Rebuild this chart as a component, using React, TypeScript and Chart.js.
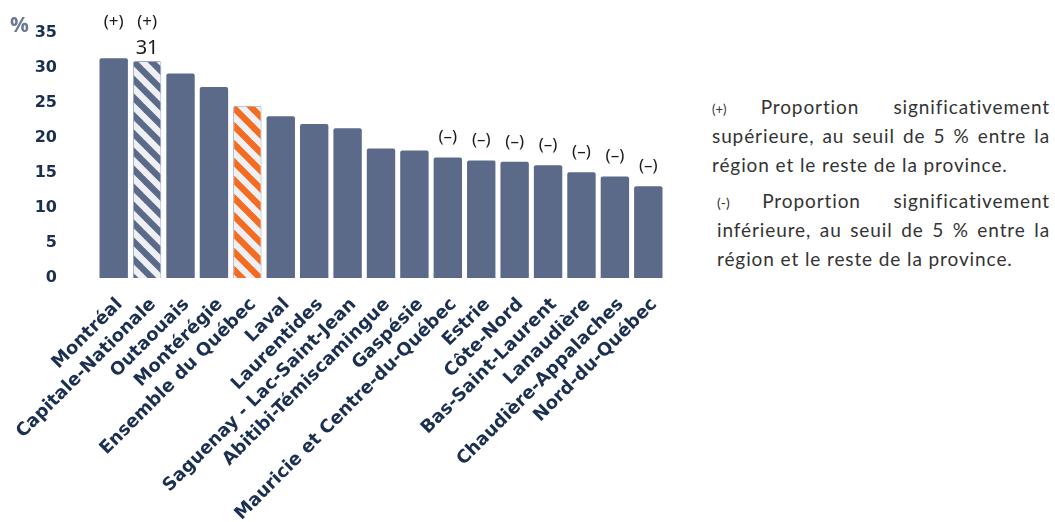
import React, { useEffect, useRef } from "react";
import { Chart, registerables } from "chart.js";

Chart.register(...registerables);

const categories = [
  "Montréal",
  "Capitale-Nationale",
  "Outaouais",
  "Montérégie",
  "Ensemble du Québec",
  "Laval",
  "Laurentides",
  "Saguenay - Lac-Saint-Jean",
  "Abitibi-Témiscamingue",
  "Gaspésie",
  "Mauricie et Centre-du-Québec",
  "Estrie",
  "Côte-Nord",
  "Bas-Saint-Laurent",
  "Lanaudière",
  "Chaudière-Appalaches",
  "Nord-du-Québec",
];

const values = [31.4, 31.0, 29.2, 27.3, 24.6, 23.1, 22.0, 21.4, 18.5, 18.2, 17.2, 16.8, 16.6, 16.1, 15.1, 14.5, 13.1];

const significance = ["+", "+", "", "", "", "", "", "", "", "", "-", "-", "-", "-", "-", "-", "-"];

const valueLabels = ["", "31", "", "", "", "", "", "", "", "", "", "", "", "", "", "", ""];

// "solid" | "navyHatch" | "orangeHatch"
const barKinds = ["solid", "navyHatch", "solid", "solid", "orangeHatch", "solid", "solid", "solid", "solid", "solid", "solid", "solid", "solid", "solid", "solid", "solid", "solid"];

const yTickValues = [0, 5, 10, 15, 20, 25, 30, 35];

const legendPlus = ["Proportion significativement", "supérieure, au seuil de 5 % entre la", "région et le reste de la province."];
const legendMinus = ["Proportion significativement", "inférieure, au seuil de 5 % entre la", "région et le reste de la province."];

const NAVY = "#5c6a89";
const LIGHT = "#eff0f3";
const ORANGE = "#f36c21";
const LABEL = "#1b2f50";

function makePattern(fg: string, bg: string, p: number): CanvasPattern | string {
  const c = document.createElement("canvas");
  c.width = p;
  c.height = p;
  const g = c.getContext("2d");
  if (!g) return fg;
  g.fillStyle = bg;
  g.fillRect(0, 0, p, p);
  g.strokeStyle = fg;
  g.lineWidth = p / (2 * Math.SQRT2);
  for (const k of [-p, 0, p]) {
    g.beginPath();
    g.moveTo(k - 2, -2);
    g.lineTo(k + p + 2, p + 2);
    g.stroke();
  }
  const pat = g.createPattern(c, "repeat");
  return pat || fg;
}

const annotationPlugin = {
  id: "sigAnnotations",
  afterDatasetsDraw(chart: any) {
    const ctx = chart.ctx;
    const meta = chart.getDatasetMeta(0);
    const yScale = chart.scales.y;
    ctx.save();
    ctx.textAlign = "center";
    ctx.textBaseline = "middle";
    ctx.fillStyle = "#1a1a1a";
    meta.data.forEach((bar: any, i: number) => {
      const s = significance[i];
      if (s === "+") {
        ctx.font = "17px 'Noto Sans'";
        ctx.fillText("(+)", bar.x, yScale.getPixelForValue(36.5));
      } else if (s === "-") {
        ctx.font = "17px 'Noto Sans'";
        ctx.fillText("(–)", bar.x, bar.y - 20);
      }
      if (valueLabels[i]) {
        ctx.font = "20px 'Noto Sans'";
        ctx.fillText(valueLabels[i], bar.x, bar.y - 13);
      }
    });
    ctx.restore();
  },
};

export default function App() {
  const ref = useRef<HTMLCanvasElement>(null);

  useEffect(() => {
    if (!ref.current) return;
    const navyHatch = makePattern(NAVY, LIGHT, 18);
    const orangeHatch = makePattern(ORANGE, LIGHT, 18);
    const bg = barKinds.map((k) => (k === "navyHatch" ? navyHatch : k === "orangeHatch" ? orangeHatch : NAVY));
    const bw = barKinds.map((k) => (k === "solid" ? 0 : 1));
    const chart = new Chart(ref.current, {
      type: "bar",
      data: {
        labels: categories,
        datasets: [
          {
            data: values,
            backgroundColor: bg as any,
            borderColor: "#9aa5bd",
            borderWidth: bw,
            borderRadius: 2,
            borderSkipped: "bottom",
            barPercentage: 0.85,
            categoryPercentage: 1,
          },
        ],
      },
      options: {
        responsive: false,
        animation: false,
        layout: { padding: { top: 33, right: 25, left: 0, bottom: 0 } },
        plugins: { legend: { display: false }, tooltip: { enabled: false } },
        scales: {
          x: {
            grid: { display: false },
            border: { display: false },
            ticks: {
              autoSkip: false,
              maxRotation: 45,
              minRotation: 45,
              labelOffset: 6,
              padding: 8,
              color: LABEL,
              font: { family: "'DejaVu Sans'", weight: "bold", size: 18 },
            },
            afterFit: (s: any) => {
              s.height = 244;
              s.paddingLeft = 0;
              s.paddingRight = 0;
            },
          },
          y: {
            min: 0,
            max: 35,
            grid: { display: false },
            border: { display: false },
            afterBuildTicks: (s: any) => {
              s.ticks = yTickValues.map((v) => ({ value: v }));
            },
            ticks: {
              padding: 32,
              color: LABEL,
              font: { family: "'DejaVu Sans'", weight: "bold", size: 16 },
            },
            afterFit: (s: any) => {
              s.width = 97;
              s.paddingTop = 0;
              s.paddingBottom = 0;
            },
          },
        },
      },
      plugins: [annotationPlugin],
    });
    return () => chart.destroy();
  }, []);

  const lineStyle: React.CSSProperties = {
    height: 29,
    lineHeight: "29px",
    textAlign: "justify",
    textAlignLast: "justify" as any,
    whiteSpace: "nowrap",
  };
  const lastLine: React.CSSProperties = { height: 29, lineHeight: "29px", whiteSpace: "nowrap" };
  const block: React.CSSProperties = {
    position: "absolute",
    fontFamily: "Lato",
    fontSize: 19,
    letterSpacing: "0.9px",
    color: "#333",
  };

  return (
    <div style={{ position: "fixed", left: 0, top: 0, width: 1055, height: 522, background: "#fff", overflow: "hidden" }}>
      <canvas ref={ref} width={690} height={522} style={{ position: "absolute", left: 0, top: 0 }} />
      <div
        style={{
          position: "absolute",
          left: 10,
          top: 10,
          fontFamily: "'Open Sans'",
          fontWeight: 700,
          fontSize: 21,
          color: "#6b7896",
        }}
      >
        %
      </div>
      <div style={{ ...block, left: 712, top: 92, width: 338 }}>
        <div style={lineStyle}>
          <span style={{ fontSize: 13, letterSpacing: 0 }}>(+)</span> {legendPlus[0]}
        </div>
        <div style={lineStyle}>{legendPlus[1]}</div>
        <div style={lastLine}>{legendPlus[2]}</div>
      </div>
      <div style={{ ...block, left: 717, top: 186, width: 333 }}>
        <div style={lineStyle}>
          <span style={{ fontSize: 14, letterSpacing: 0 }}>(-)</span> {legendMinus[0]}
        </div>
        <div style={lineStyle}>{legendMinus[1]}</div>
        <div style={lastLine}>{legendMinus[2]}</div>
      </div>
    </div>
  );
}
